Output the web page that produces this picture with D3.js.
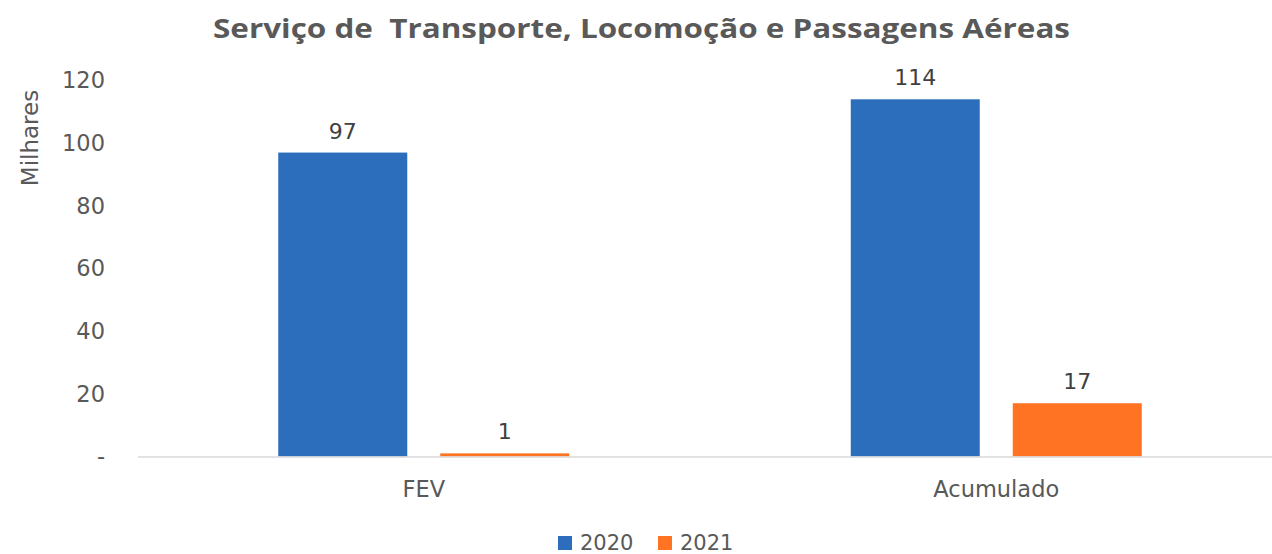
<!DOCTYPE html>
<html>
<head>
<meta charset="utf-8">
<script src="https://cdn.jsdelivr.net/npm/d3@7"></script>
<style>
  html, body { margin: 0; padding: 0; background: #fff; }
  svg { display: block; }
  text { font-family: "DejaVu Sans", sans-serif; }
</style>
</head>
<body>
<svg id="chart" width="1272" height="554"></svg>
<script>
// Chart data (thousands)
const categories = ["FEV", "Acumulado"];
const seriesNames = ["2020", "2021"];
const values2020 = [97, 114];
const values2021 = [1, 17];
const yTicks = [0, 20, 40, 60, 80, 100, 120];
const titleText = "Serviço de  Transporte, Locomoção e Passagens Aéreas";
const yAxisLabel = "Milhares";

const colors = { "2020": "#2C6EBC", "2021": "#FF7322" };
const textColor = "#595959";
const labelFont = "'DejaVu Sans', sans-serif";

const plot = { left: 137.5, right: 1282.5, top: 80.5, bottom: 456.5 };

const svg = d3.select("#chart");

const rows = categories.map((c, i) => ({
  category: c,
  "2020": values2020[i],
  "2021": values2021[i]
}));

const x0 = d3.scaleBand().domain(categories).range([plot.left, plot.right]).padding(0);
const groupW = 291;
const innerPad = 33 / ((groupW + 33) / 2);
const x1 = d3.scaleBand()
  .domain(seriesNames)
  .range([(x0.bandwidth() - groupW) / 2, (x0.bandwidth() + groupW) / 2])
  .paddingInner(innerPad)
  .paddingOuter(0);
const y = d3.scaleLinear().domain([0, 120]).range([plot.bottom, plot.top]);

// Title
svg.append("text")
  .attr("x", 641.5).attr("y", 38)
  .attr("text-anchor", "middle")
  .attr("font-size", 27).attr("font-weight", 700)
  .attr("fill", textColor)
  .attr("textLength", 857).attr("lengthAdjust", "spacingAndGlyphs")
  .style("font-family", "'Open Sans', sans-serif")
  .style("white-space", "pre")
  .text(titleText);

// Y axis (labels only)
const yAxis = d3.axisLeft(y)
  .tickValues(yTicks)
  .tickSize(0)
  .tickPadding(0)
  .tickFormat(d => d === 0 ? "-" : d3.format("d")(d));
const yg = svg.append("g").attr("transform", "translate(105,0)").call(yAxis);
yg.select(".domain").remove();
yg.selectAll("text")
  .attr("font-size", 22.5).attr("fill", textColor)
  .style("font-family", labelFont);

// Y axis title
svg.append("text")
  .attr("transform", "translate(38,138) rotate(-90)")
  .attr("text-anchor", "middle")
  .attr("font-size", 23).attr("fill", textColor)
  .text(yAxisLabel);

// Bars
const groups = svg.append("g").selectAll("g")
  .data(rows).join("g")
  .attr("transform", d => `translate(${x0(d.category)},0)`);

groups.selectAll("rect")
  .data(d => seriesNames.map(s => ({ key: s, value: d[s] })))
  .join("rect")
  .attr("x", d => x1(d.key))
  .attr("width", x1.bandwidth())
  .attr("y", d => y(d.value))
  .attr("height", d => y(0) - y(d.value))
  .attr("fill", d => colors[d.key]);

// Value labels
groups.selectAll("text.val")
  .data(d => seriesNames.map(s => ({ key: s, value: d[s] })))
  .join("text")
  .attr("class", "val")
  .attr("x", d => x1(d.key) + x1.bandwidth() / 2)
  .attr("y", d => y(d.value) - 14)
  .attr("text-anchor", "middle")
  .attr("font-size", 22).attr("fill", "#404040")
  .text(d => d.value);

// X axis
const xAxis = d3.axisBottom(x0).tickSize(0).tickPadding(0);
const xg = svg.append("g").attr("transform", `translate(0,${plot.bottom})`).call(xAxis);
xg.select(".domain").attr("stroke", "#D9D9D9").attr("stroke-width", 1.5);
xg.selectAll("text")
  .attr("dy", 0).attr("y", 40.5)
  .attr("font-size", 22.5).attr("fill", textColor)
  .style("font-family", labelFont);

// Legend
const legend = svg.append("g").attr("transform", "translate(558,536)");
const legendItems = legend.selectAll("g")
  .data(seriesNames).join("g")
  .attr("transform", (d, i) => `translate(${i * 100},0)`);
legendItems.append("rect")
  .attr("width", 14).attr("height", 14)
  .attr("fill", d => colors[d]);
legendItems.append("text")
  .attr("x", 22).attr("y", 14)
  .attr("font-size", 21).attr("fill", textColor)
  .text(d => d);
</script>
</body>
</html>
